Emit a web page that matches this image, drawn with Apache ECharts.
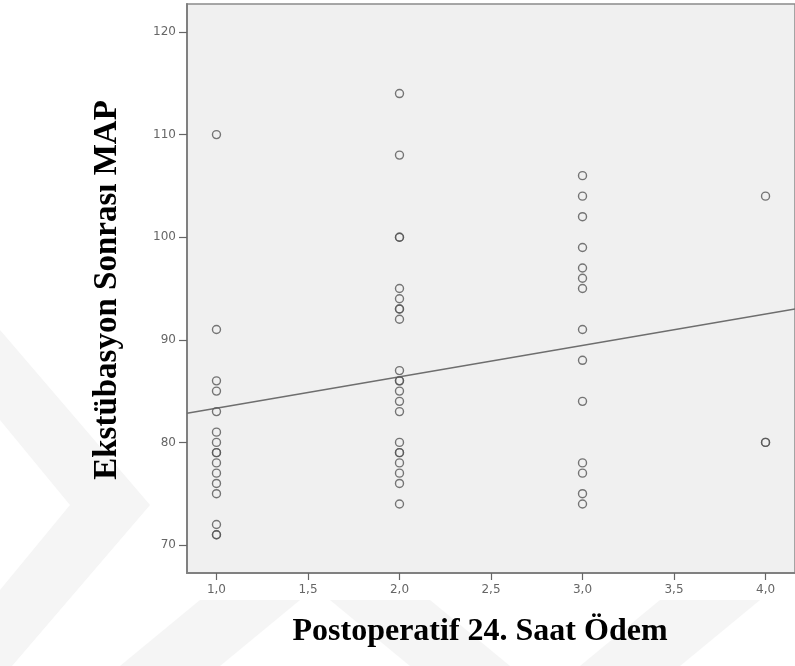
<!DOCTYPE html>
<html>
<head>
<meta charset="utf-8">
<script src="https://cdn.jsdelivr.net/npm/echarts@6/dist/echarts.min.js"></script>
<style>html,body{margin:0;padding:0;background:#fff;}#c{width:795px;height:666px;}</style>
</head>
<body>
<div id="c"></div>
<script>
// Postoperatif 24. Saat Ödem groups and Ekstübasyon Sonrası MAP values
const group1 = [110, 91, 86, 85, 83, 81, 80, 79, 79, 78, 77, 76, 75, 72, 71, 71];
const group2 = [114, 108, 100, 100, 95, 94, 93, 93, 92, 87, 86, 86, 85, 84, 83, 80, 79, 79, 78, 77, 76, 74];
const group3 = [106, 104, 102, 99, 97, 96, 95, 91, 88, 84, 78, 77, 75, 74];
const group4 = [104, 80, 80];
const groupX = [1, 2, 3, 4];
// fit line end points
const fitX = [0.839, 4.161];
const fitY = [82.85, 93.0];
const xTicks = [1.0, 1.5, 2.0, 2.5, 3.0, 3.5, 4.0];
const yTicks = [70, 80, 90, 100, 110, 120];

const groups = [group1, group2, group3, group4];
const points = [];
groups.forEach((g, i) => g.forEach(v => points.push([groupX[i], v])));
const fitData = fitX.map((x, i) => [x, fitY[i]]);

const chart = echarts.init(document.getElementById('c'), null, {renderer: 'canvas'});
const wm = '#f5f5f5';
chart.setOption({
  animation: false,
  backgroundColor: '#ffffff',
  graphic: [
    {type: 'polygon', z: -10, shape: {points: [[0, 330], [150, 505], [0, 680], [0, 590], [70, 505], [0, 420]]}, style: {fill: wm}},
    {type: 'polygon', z: -10, shape: {points: [[120, 666], [200, 600], [300, 600], [220, 666]]}, style: {fill: wm}},
    {type: 'polygon', z: -10, shape: {points: [[330, 600], [430, 600], [510, 666], [410, 666]]}, style: {fill: wm}},
    {type: 'polygon', z: -10, shape: {points: [[580, 666], [660, 600], [760, 600], [680, 666]]}, style: {fill: wm}},
    {type: 'text', x: 107, y: 290, rotation: Math.PI / 2, style: {
      text: 'Ekstübasyon Sonrası MAP', fontFamily: 'Liberation Serif', fontWeight: 'bold', fontSize: 33,
      fill: '#000', textAlign: 'center', textVerticalAlign: 'middle'}},
    {type: 'text', x: 480, y: 632, style: {
      text: 'Postoperatif 24. Saat Ödem', fontFamily: 'Liberation Serif', fontWeight: 'bold', fontSize: 32,
      fill: '#000', textAlign: 'center', textVerticalAlign: 'middle'}}
  ],
  grid: {left: 187, top: 4, width: 618, height: 569, show: true, backgroundColor: '#f0f0f0',
    borderColor: '#8a8a8a', borderWidth: 1.5, containLabel: false},
  xAxis: {
    type: 'value', min: fitX[0], max: fitX[1],
    axisLine: {show: true, onZero: false, lineStyle: {color: '#808080', width: 2}},
    axisTick: {show: true, length: 7, customValues: xTicks, lineStyle: {color: '#666', width: 1.2}},
    axisLabel: {customValues: xTicks, color: '#666', fontSize: 12, fontFamily: 'DejaVu Sans', margin: 11,
      formatter: v => v.toFixed(1).replace('.', ',')},
    splitLine: {show: false}
  },
  yAxis: {
    type: 'value', min: 67.27, max: 122.73,
    axisLine: {show: true, onZero: false, lineStyle: {color: '#808080', width: 2}},
    axisTick: {show: true, length: 8, customValues: yTicks, lineStyle: {color: '#666', width: 1.2}},
    axisLabel: {customValues: yTicks, color: '#666', fontSize: 12, fontFamily: 'DejaVu Sans', margin: 11,
      formatter: v => String(Math.round(v))},
    splitLine: {show: false}
  },
  series: [
    {type: 'line', data: fitData, symbol: 'none', lineStyle: {color: '#6e6e6e', width: 1.5}, z: 3, silent: true},
    {type: 'scatter', data: points, symbol: 'circle', symbolSize: 8,
      itemStyle: {color: 'rgba(0,0,0,0)', borderColor: '#555', borderWidth: 1.4}, z: 4}
  ]
});
</script>
</body>
</html>
